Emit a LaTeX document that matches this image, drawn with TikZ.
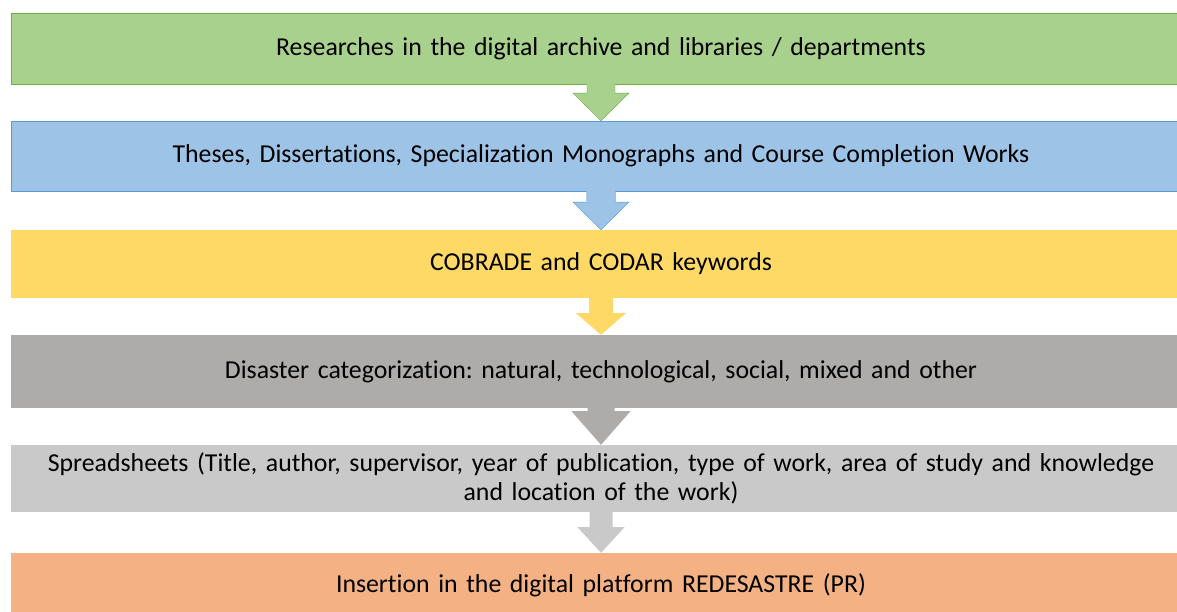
\documentclass[tikz,border=0pt]{standalone}
\usepackage{fontspec}
\setmainfont[RawFeature={-liga;-clig;-dlig;-calt}]{Carlito}
\usepackage{xcolor}
\usetikzlibrary{calc}
\definecolor{greenfill}{HTML}{A9D18E}
\definecolor{greenline}{HTML}{70AD47}
\definecolor{bluefill}{HTML}{9DC3E6}
\definecolor{blueline}{HTML}{5B9BD5}
\definecolor{yellowfill}{HTML}{FFD966}
\definecolor{grayfill}{HTML}{AEABAB}
\definecolor{lightgrayfill}{HTML}{C9C9C9}
\definecolor{orangefill}{HTML}{F4B183}
\frenchspacing
\tikzset{
    stage-box/.style = {rectangle, inner sep=0pt, minimum width=1180pt, text width=1160pt, align=center, font=\fontsize{25.8}{28.5}\selectfont},
}
% block arrow: from, to, shaft half width, head half width, head start, fill, line
\newcommand{\flowarrow}[7]{%
    \fill[#6] ($(#1.south)+(-#3,-1)$) -- ($(#1.south)+(-#3,#5)$) -- ($(#1.south)+(-#4,#5)$) -- (#2.north) -- ($(#1.south)+(#4,#5)$) -- ($(#1.south)+(#3,#5)$) -- ($(#1.south)+(#3,-1)$) -- cycle;
    \draw[#7] ($(#1.south)+(-#3,0)$) -- ($(#1.south)+(-#3,#5)$) -- ($(#1.south)+(-#4,#5)$) -- (#2.north) -- ($(#1.south)+(#4,#5)$) -- ($(#1.south)+(#3,#5)$) -- ($(#1.south)+(#3,0)$);
}

\begin{document}
\begin{tikzpicture}[x=1pt,y=-1pt]
\clip (0,0) rectangle (1177,612);
\fill[white] (0,0) rectangle (1177,612);

\node[stage-box, fill=greenfill, draw=greenline, minimum height=71pt] (research) at (601,48.5) {Researches in the digital archive and libraries / departments};
\node[stage-box, fill=bluefill, draw=blueline, minimum height=70pt] (theses) at (601,156) {Theses, Dissertations, Specialization Monographs and Course Completion Works};
\node[stage-box, fill=yellowfill, minimum height=68pt] (keywords) at (601,264) {COBRADE and CODAR keywords};
\node[stage-box, fill=grayfill, minimum height=73pt] (category) at (601,371.5) {Disaster categorization: natural, technological, social, mixed and other};
\node[stage-box, fill=lightgrayfill, minimum height=67pt] (sheets) at (601,478.5) {Spreadsheets (Title, author, supervisor, year of publication, type of work, area of study and knowledge\\and location of the work)};
\node[stage-box, fill=orangefill, minimum height=64pt] (platform) at (601,585) {Insertion in the digital platform REDESASTRE (PR)};

\flowarrow{research}{theses}{14}{28}{9}{greenfill}{greenline}
\flowarrow{theses}{keywords}{14.5}{28}{11}{bluefill}{blueline}
\flowarrow{keywords}{category}{12}{25}{15}{yellowfill}{draw=none}
\flowarrow{category}{sheets}{13.5}{29.5}{3}{grayfill}{draw=none}
\flowarrow{sheets}{platform}{11.5}{23.5}{15}{lightgrayfill}{draw=none}
\end{tikzpicture}
\end{document}
